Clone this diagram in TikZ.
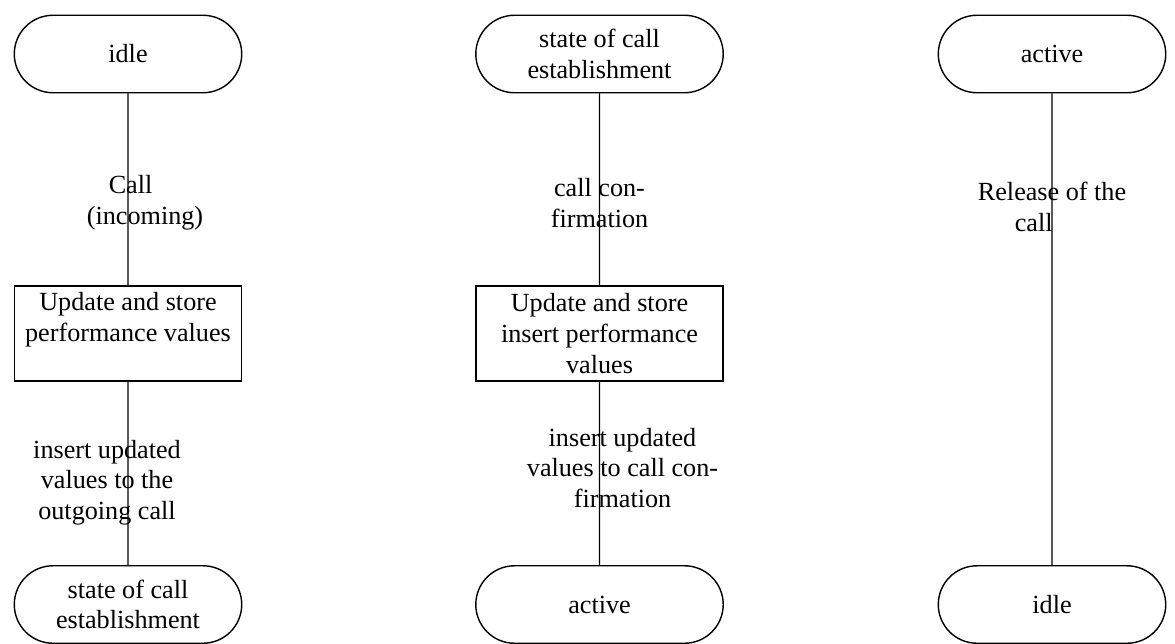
\documentclass[tikz,border=0pt]{standalone}
\usepackage{fontspec}
\setmainfont{Liberation Serif}
\usetikzlibrary{positioning,shapes.misc}
\tikzset{
  term/.style={draw, rounded rectangle, minimum width=4.62cm, minimum height=1.55cm, align=center, inner sep=1pt},
  wideterm/.style={term, minimum width=5.02cm},
  proc/.style={draw, rectangle, minimum height=1.9cm, align=center, inner sep=1pt},
  conn/.style={line width=0.8pt},
  lbl/.style={align=center, inner sep=0pt},
}

\begin{document}
\begin{tikzpicture}[x=0.02cm, y=-0.02cm, line width=0.8pt, font=\fontsize{14.9}{17.5}\selectfont]
  \useasboundingbox (0,0) rectangle (1175,643);
  % incoming call
  \node[term] (idleA) at (128,54) {idle};
  \node[proc, below=3.84cm of idleA, minimum width=4.54cm, text depth=19pt] (updA) {Update and store\\performance values};
  \node[term] (estA) at (128,604.5) {state of call\\establishment};

  % call confirmation
  \node[wideterm] (estB) at (599.5,54) {state of call\\establishment};
  \node[proc, below=3.84cm of estB, minimum width=4.94cm] (updB) {Update and store\\insert performance\\values};
  \node[wideterm] (actB) at (599.5,604.5) {active};

  % release
  \node[term] (actC) at (1052,54) {active};
  \node[term] (idleC) at (1052,604.5) {idle};

  % connections
  \draw[conn] (idleA) -- node[lbl, pos=0.57, xshift=0.34cm] {Call\hspace*{1.1em}\\(incoming)} (updA);
  \draw[conn] (updA) -- node[lbl, pos=0.55, xshift=-0.42cm] {insert updated\\values to the\\outgoing call} (estA);
  \draw[conn] (estB) -- node[lbl, pos=0.57] {call con-\\firmation} (updB);
  \draw[conn] (updB) -- node[lbl, pos=0.47, xshift=0.46cm] {insert updated\\values to call con-\\firmation} (actB);
  \draw[conn] (actC) -- node[lbl, pos=0.24] {Release of the\\call\hspace*{1.4em}} (idleC);
\end{tikzpicture}
\end{document}
